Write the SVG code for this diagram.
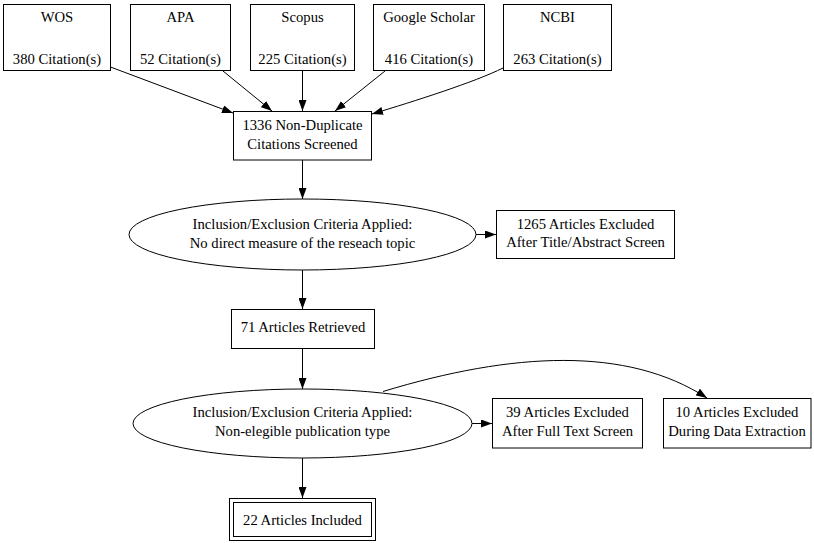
<svg xmlns="http://www.w3.org/2000/svg" width="814" height="543" viewBox="0 0 814 543">
<defs>
<marker id="ah" viewBox="0 0 11 8" markerWidth="11" markerHeight="8" refX="11" refY="4" orient="auto" markerUnits="userSpaceOnUse"><path d="M0,0 L11,4 L0,8 z" fill="#000"/></marker>
<style>
.n rect, .n ellipse {fill:#fff; stroke:#000; stroke-width:1}
text {font-family:"Liberation Serif","Times New Roman",serif; font-size:14.67px; text-anchor:middle; fill:#000}
#edges path {fill:none; stroke:#000; stroke-width:1; marker-end:url(#ah)}
</style>
</defs>
<rect width="814" height="543" fill="#fff"/>
<g id="edges">
<path d="M110.5,67 L233,113"/>
<path d="M223,71 L272,111"/>
<path d="M302.5,71 L302.5,111"/>
<path d="M385,71 L335,111"/>
<path d="M503,68 C475,82 415,101 372,114"/>
<path d="M302.5,160 L302.5,199"/>
<path d="M476,234.5 L496,234.5"/>
<path d="M302.5,270 L302.5,309"/>
<path d="M302.5,348.5 L302.5,389"/>
<path d="M472,423.5 L492,423.5"/>
<path d="M383,391.5 C513,352 627,346 707,398"/>
<path d="M302.5,458 L302.5,498"/>
</g>
<g id="wos" class="n"><rect x="3.5" y="4.5" width="107" height="66"/><text x="57" y="22">WOS</text><text x="57" y="64">380 Citation(s)</text></g>
<g id="apa" class="n"><rect x="130.5" y="4.5" width="100" height="66"/><text x="180.5" y="22">APA</text><text x="180.5" y="64">52 Citation(s)</text></g>
<g id="scopus" class="n"><rect x="250.5" y="4.5" width="104" height="66"/><text x="302.5" y="22">Scopus</text><text x="302.5" y="64">225 Citation(s)</text></g>
<g id="google" class="n"><rect x="373.5" y="4.5" width="111" height="66"/><text x="429" y="22">Google Scholar</text><text x="429" y="64">416 Citation(s)</text></g>
<g id="ncbi" class="n"><rect x="503.5" y="4.5" width="108" height="66"/><text x="557.5" y="22">NCBI</text><text x="557.5" y="64">263 Citation(s)</text></g>
<g id="nondup" class="n"><rect x="233.5" y="111.5" width="138" height="48.5"/><text x="302.5" y="129.5">1336 Non-Duplicate</text><text x="302.5" y="148.5">Citations Screened</text></g>
<g id="crit1" class="n"><ellipse cx="302.5" cy="234.5" rx="173.5" ry="35.5"/><text x="302.5" y="229">Inclusion/Exclusion Criteria Applied:</text><text x="302.5" y="247.5">No direct measure of the reseach topic</text></g>
<g id="excl1" class="n"><rect x="496.5" y="210.5" width="178" height="48"/><text x="585.5" y="228.5">1265 Articles Excluded</text><text x="585.5" y="247">After Title/Abstract Screen</text></g>
<g id="retrieved" class="n"><rect x="231.5" y="309.5" width="143" height="39"/><text x="303" y="332">71 Articles Retrieved</text></g>
<g id="crit2" class="n"><ellipse cx="302.5" cy="423.5" rx="169.5" ry="34.5"/><text x="302.5" y="417">Inclusion/Exclusion Criteria Applied:</text><text x="302.5" y="435.5">Non-elegible publication type</text></g>
<g id="excl2" class="n"><rect x="492.5" y="398.5" width="150" height="49.5"/><text x="567.5" y="416.5">39 Articles Excluded</text><text x="567.5" y="435.5">After Full Text Screen</text></g>
<g id="excl3" class="n"><rect x="663.5" y="398.5" width="147.5" height="49.5"/><text x="737" y="416.5">10 Articles Excluded</text><text x="737" y="435.5">During Data Extraction</text></g>
<g id="included" class="n"><rect x="229.5" y="498.5" width="146" height="42"/><rect x="233.5" y="502.5" width="138" height="34"/><text x="302.5" y="524.5">22 Articles Included</text></g>
</svg>
